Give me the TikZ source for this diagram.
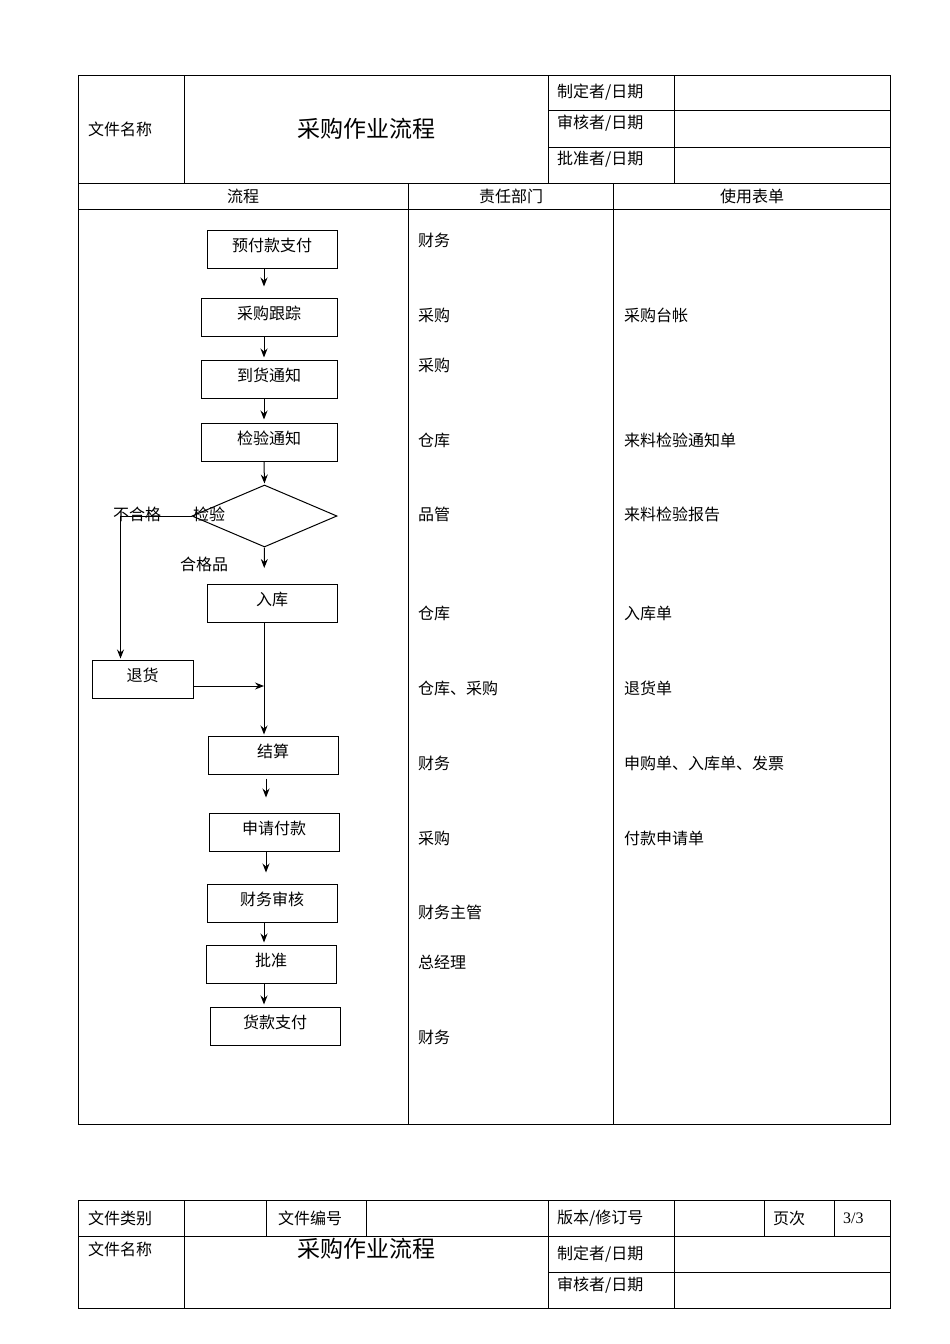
\documentclass[tikz,border=0pt]{standalone}
\usepackage{fontspec}
\setmainfont{Noto Sans CJK SC}
\newfontfamily\latinfont{Liberation Serif}
\usetikzlibrary{arrows.meta,positioning,shapes.geometric}

\begin{document}
\begin{tikzpicture}[
 x=1pt,y=-1pt,
 every node/.style={font=\fontsize{16pt}{18pt}\selectfont,inner sep=0pt},
 heading/.style={font=\fontsize{23pt}{26pt}\selectfont},
 cell/.style={anchor=west},
 box/.style={draw,line width=1pt,minimum width=130pt,minimum height=38pt,
   text height=11pt,text depth=7pt},
 decision/.style={draw,line width=1pt,diamond,aspect=2.34,
   minimum width=145pt,minimum height=62pt},
 arr/.style={-{Stealth[length=9pt,width=7pt,inset=3pt]},line width=1pt},
 rule/.style={line width=1pt}
]
 \useasboundingbox (0,0) rectangle (950,1344);
 % upper sheet
 \draw[rule] (78,75) rectangle (890,1124);
 \draw[rule] (78,183) -- (890,183);
 \draw[rule] (78,209) -- (890,209);
 \draw[rule] (184,75) -- (184,183);
 \draw[rule] (548,75) -- (548,183);
 \draw[rule] (674,75) -- (674,183);
 \draw[rule] (548,110) -- (890,110);
 \draw[rule] (548,147) -- (890,147);
 \draw[rule] (408,183) -- (408,1124);
 \draw[rule] (613,183) -- (613,1124);
 \node[cell] (docname) at (88,129) {文件名称};
 \node[heading] (doctitle) at (366,129) {采购作业流程};
 \node[cell] (made) at (557,92) {制定者/日期};
 \node[cell] (checked) at (557,123) {审核者/日期};
 \node[cell] (approved) at (557,159) {批准者/日期};
 \node (colflow) at (243,196) {流程};
 \node (coldept) at (511,196) {责任部门};
 \node (colform) at (752,196) {使用表单};

 % flow
 \coordinate (spine) at (264,0);
 \coordinate (spinelow) at (266,0);
 \node[box] (prepay) at (272,249.5) {预付款支付};
 \node[box,minimum width=136pt] (track) at (269,317) {采购跟踪};
 \node[box,minimum width=136pt] (arrive) at (269,379) {到货通知};
 \node[box,minimum width=136pt] (notice) at (269,442) {检验通知};
 \node[decision] (inspect) at (264.5,516) {};
 \node (inspectlbl) at (209,514) {检验};
 \node (reject) at (137,514) {不合格};
 \node (pass) at (204,564) {合格品};
 \node[box] (store) at (272,603.5) {入库};
 \node[box,minimum width=101pt] (giveback) at (142.5,679) {退货};
 \node[box] (settle) at (273,755) {结算};
 \node[box] (apply) at (274,832) {申请付款};
 \node[box] (review) at (272,903) {财务审核};
 \node[box] (grant) at (271,964) {批准};
 \node[box] (payout) at (275,1026) {货款支付};

 \draw[arr,shorten >=11pt] (prepay.south -| spine) -- (track.north -| spine);
 \draw[arr,shorten >=2pt] (track.south -| spine) -- (arrive.north -| spine);
 \draw[arr,shorten >=3pt] (arrive.south -| spine) -- (notice.north -| spine);
 \draw[arr,shorten >=1pt] (notice.south -| spine) -- (inspect.north);
 \draw[arr,shorten >=16pt] (inspect.south) -- (store.north -| spine);
 \draw[arr,shorten >=1pt] (store.south -| spine) -- (settle.north -| spine);
 \draw[arr,shorten >=1pt] (inspect.west) -| ([xshift=-22pt]giveback.north);
 \draw[arr] ([yshift=-7pt]giveback.east) -- ([yshift=-7pt]giveback.east -| spine);
 \draw[arr,shorten <=4pt,shorten >=15pt] (settle.south -| spinelow) -- (apply.north -| spinelow);
 \draw[arr,shorten >=11pt] (apply.south -| spinelow) -- (review.north -| spinelow);
 \draw[arr,shorten >=2pt] (review.south -| spine) -- (grant.north -| spine);
 \draw[arr,shorten >=2pt] (grant.south -| spine) -- (payout.north -| spine);

 % responsible department
 \node[cell] (dept1) at (418,240) {财务};
 \node[cell] (dept2) at (418,315) {采购};
 \node[cell] (dept3) at (418,365) {采购};
 \node[cell] (dept4) at (418,440) {仓库};
 \node[cell] (dept5) at (418,514) {品管};
 \node[cell] (dept6) at (418,613) {仓库};
 \node[cell] (dept7) at (418,688) {仓库、采购};
 \node[cell] (dept8) at (418,763) {财务};
 \node[cell] (dept9) at (418,838) {采购};
 \node[cell] (dept10) at (418,912) {财务主管};
 \node[cell] (dept11) at (418,962) {总经理};
 \node[cell] (dept12) at (418,1037) {财务};

 % forms used
 \node[cell] (form1) at (624,315) {采购台帐};
 \node[cell] (form2) at (624,440) {来料检验通知单};
 \node[cell] (form3) at (624,514) {来料检验报告};
 \node[cell] (form4) at (624,613) {入库单};
 \node[cell] (form5) at (624,688) {退货单};
 \node[cell] (form6) at (624,763) {申购单、入库单、发票};
 \node[cell] (form7) at (624,838) {付款申请单};

 % lower sheet
 \draw[rule] (78,1200) rectangle (890,1308);
 \draw[rule] (78,1236) -- (890,1236);
 \foreach \xcol in {184,266,366,548,674,764,834}
   \draw[rule] (\xcol,1200) -- (\xcol,1236);
 \foreach \xcol in {184,548,674}
   \draw[rule] (\xcol,1236) -- (\xcol,1308);
 \draw[rule] (548,1272) -- (890,1272);
 \node[cell] (doctype) at (88,1218) {文件类别};
 \node[cell] (docno) at (278,1218) {文件编号};
 \node[cell] (docrev) at (557,1218) {版本/修订号};
 \node[cell] (docpage) at (773,1218) {页次};
 \node[cell,font=\latinfont\fontsize{16pt}{18pt}\selectfont] (pagenum) at (843,1218) {3/3};
 \node[cell] (docname2) at (88,1249) {文件名称};
 \node[heading] (doctitle2) at (366,1249) {采购作业流程};
 \node[cell] (made2) at (557,1254) {制定者/日期};
 \node[cell] (checked2) at (557,1285) {审核者/日期};
\end{tikzpicture}
\end{document}
